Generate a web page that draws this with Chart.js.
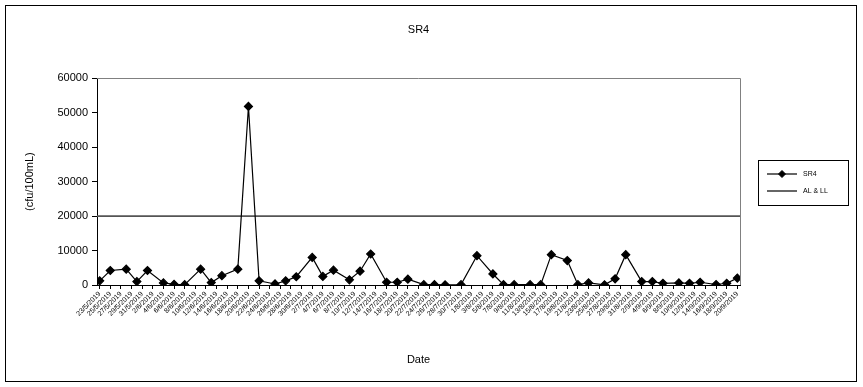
<!DOCTYPE html>
<html>
<head>
<meta charset="utf-8">
<script src="https://cdn.jsdelivr.net/npm/chart.js@4.4.0/dist/chart.umd.min.js"></script>
<style>
  html, body { margin: 0; padding: 0; background: #fff; }
  #wrap { width: 863px; height: 387px; }
</style>
</head>
<body>
<div id="wrap"><canvas id="sr4Chart" width="863" height="387"></canvas></div>
<script>
// sampling dates and counts
const sampleDates = [
  '23/5/2019', '25/5/2019', '28/5/2019', '30/5/2019', '1/6/2019', '4/6/2019', '6/6/2019', '8/6/2019',
  '11/6/2019', '13/6/2019', '15/6/2019', '18/6/2019', '20/6/2019', '22/6/2019', '25/6/2019', '27/6/2019',
  '29/6/2019', '2/7/2019', '4/7/2019', '6/7/2019', '9/7/2019', '11/7/2019', '13/7/2019', '16/7/2019',
  '18/7/2019', '20/7/2019', '23/7/2019', '25/7/2019', '27/7/2019', '30/7/2019', '2/8/2019', '5/8/2019',
  '7/8/2019', '9/8/2019', '12/8/2019', '14/8/2019', '16/8/2019', '19/8/2019', '21/8/2019', '23/8/2019',
  '26/8/2019', '28/8/2019', '30/8/2019', '2/9/2019', '4/9/2019', '6/9/2019', '9/9/2019', '11/9/2019',
  '13/9/2019', '16/9/2019', '18/9/2019', '20/9/2019'
];
const sr4Counts = [
  1200, 4200, 4600, 1000, 4200, 600, 200, 100,
  4600, 700, 2700, 4600, 51800, 1200, 300, 1200,
  2400, 8000, 2500, 4300, 1500, 4000, 9000, 800,
  800, 1700, 100, 100, 50, 100, 8500, 3200,
  100, 100, 100, 100, 8800, 7100, 100, 600,
  50, 1800, 8800, 1000, 1000, 500, 600, 500,
  800, 150, 500, 2000
];
const alLimit = 20000;
const tickDates = [
  '23/5/2019', '25/5/2019', '27/5/2019', '29/5/2019', '31/5/2019', '2/6/2019', '4/6/2019', '6/6/2019',
  '8/6/2019', '10/6/2019', '12/6/2019', '14/6/2019', '16/6/2019', '18/6/2019', '20/6/2019', '22/6/2019',
  '24/6/2019', '26/6/2019', '28/6/2019', '30/6/2019', '2/7/2019', '4/7/2019', '6/7/2019', '8/7/2019',
  '10/7/2019', '12/7/2019', '14/7/2019', '16/7/2019', '18/7/2019', '20/7/2019', '22/7/2019', '24/7/2019',
  '26/7/2019', '28/7/2019', '30/7/2019', '1/8/2019', '3/8/2019', '5/8/2019', '7/8/2019', '9/8/2019',
  '11/8/2019', '13/8/2019', '15/8/2019', '17/8/2019', '19/8/2019', '21/8/2019', '23/8/2019', '25/8/2019',
  '27/8/2019', '29/8/2019', '31/8/2019', '2/9/2019', '4/9/2019', '6/9/2019', '8/9/2019', '10/9/2019',
  '12/9/2019', '14/9/2019', '16/9/2019', '18/9/2019', '20/9/2019'
];

function dayNumber(label) {
  const [d, m, y] = label.split('/').map(Number);
  return Date.UTC(y, m - 1, d) / 86400000;
}
const firstDay = dayNumber(tickDates[0]);
const lastDay = dayNumber(tickDates[tickDates.length - 1]) - firstDay;
const tickLabelByDay = {};
tickDates.forEach(t => { tickLabelByDay[dayNumber(t) - firstDay] = t; });

const sr4Points = sampleDates.map((d, i) => ({ x: dayNumber(d) - firstDay, y: sr4Counts[i] }));
const limitPoints = [{ x: -0.5, y: alLimit }, { x: lastDay + 0.5, y: alLimit }];

const FONT = '"Liberation Sans", Arial, sans-serif';

const frame = {
  id: 'frame',
  beforeDraw(chart) {
    const ctx = chart.ctx;
    ctx.save();
    ctx.fillStyle = '#fff';
    ctx.fillRect(0, 0, chart.width, chart.height);
    ctx.strokeStyle = '#000';
    ctx.lineWidth = 1;
    ctx.strokeRect(5.5, 5.5, 851, 376);
    ctx.restore();
  },
  beforeDatasetsDraw(chart) {
    const { ctx, chartArea: a } = chart;
    ctx.save();
    ctx.strokeStyle = '#808080';
    ctx.lineWidth = 1;
    ctx.beginPath();
    ctx.moveTo(a.left, Math.round(a.top) + 0.5);
    ctx.lineTo(Math.round(a.right) + 0.5, Math.round(a.top) + 0.5);
    ctx.lineTo(Math.round(a.right) + 0.5, a.bottom);
    ctx.stroke();
    ctx.restore();
  }
};

const legendBox = {
  id: 'legendBox',
  afterDraw(chart) {
    const ctx = chart.ctx;
    ctx.save();
    ctx.strokeStyle = '#000';
    ctx.lineWidth = 1;
    ctx.strokeRect(758.5, 160.5, 90, 45);
    chart.data.datasets.forEach((ds, i) => {
      const y = 174 + i * 17;
      ctx.strokeStyle = ds.borderColor;
      ctx.lineWidth = ds.borderWidth;
      ctx.beginPath();
      ctx.moveTo(767, y);
      ctx.lineTo(797, y);
      ctx.stroke();
      if (ds.pointRadius) {
        ctx.fillStyle = ds.pointBackgroundColor;
        ctx.strokeStyle = ds.pointBorderColor;
        ctx.lineWidth = 1;
        Chart.helpers.drawPoint(ctx, { pointStyle: 'rectRot', radius: 3.5, borderWidth: 1 }, 782, y);
      }
      ctx.fillStyle = '#000';
      ctx.font = '7px ' + FONT;
      ctx.textBaseline = 'middle';
      ctx.textAlign = 'left';
      ctx.fillText(ds.label, 803, y);
    });
    ctx.restore();
  }
};

new Chart(document.getElementById('sr4Chart'), {
  type: 'line',
  data: {
    datasets: [{
      label: 'SR4',
      data: sr4Points,
      borderColor: '#000',
      borderWidth: 1.2,
      pointStyle: 'rectRot',
      pointRadius: 4,
      pointBackgroundColor: '#000',
      pointBorderColor: '#000',
      tension: 0
    }, {
      label: 'AL & LL',
      data: limitPoints,
      borderColor: '#555',
      borderWidth: 1.8,
      pointRadius: 0,
      tension: 0
    }]
  },
  options: {
    responsive: false,
    animation: false,
    devicePixelRatio: 1,
    layout: { padding: { left: 0, right: 123, top: 0, bottom: 0 } },
    plugins: {
      legend: { display: false },
      tooltip: { enabled: false },
      title: {
        display: true,
        text: 'SR4',
        fullSize: false,
        color: '#000',
        font: { family: FONT, size: 11, weight: 'normal' },
        padding: { top: 23, bottom: 42 }
      }
    },
    scales: {
      x: {
        type: 'linear',
        bounds: 'data',
        min: -0.5,
        max: lastDay + 0.5,
        afterBuildTicks: axis => {
          axis.ticks = tickDates.map(t => ({ value: dayNumber(t) - firstDay }));
        },
        afterFit: axis => { axis.height = 102; },
        grid: { drawOnChartArea: false, tickLength: 4, color: '#000' },
        border: { color: '#000', width: 1 },
        ticks: {
          autoSkip: false,
          minRotation: 45,
          maxRotation: 45,
          padding: 1,
          color: '#000',
          font: { family: FONT, size: 7 },
          callback: v => tickLabelByDay[v] || ''
        },
        title: {
          display: true,
          text: 'Date',
          color: '#000',
          font: { family: FONT, size: 11 },
          padding: { bottom: 20 }
        }
      },
      y: {
        min: 0,
        max: 60000,
        afterFit: axis => { axis.width = 97; },
        grid: { drawOnChartArea: false, tickLength: 5, color: '#000' },
        border: { color: '#000', width: 1 },
        ticks: {
          stepSize: 10000,
          padding: 4,
          color: '#000',
          font: { family: FONT, size: 11 },
          callback: v => String(v)
        },
        title: {
          display: true,
          text: '(cfu/100mL)',
          color: '#000',
          font: { family: FONT, size: 11 },
          padding: { top: 23 }
        }
      }
    }
  },
  plugins: [frame, legendBox]
});
</script>
</body>
</html>
